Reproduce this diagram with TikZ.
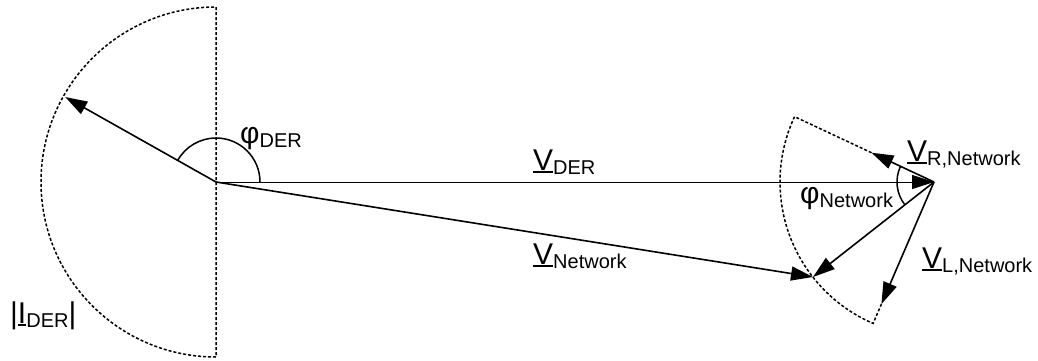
\documentclass[tikz,border=0pt]{standalone}
\usepackage{fontspec}
\setmainfont{Liberation Sans}
\usetikzlibrary{arrows.meta,calc}
% phasor symbol: underlined letter with a lowered subscript
\newcommand\ubar[1]{\setbox0\hbox{#1}\rlap{\rule[-3pt]{\wd0}{2.4pt}}\box0}
\newcommand\lsub[1]{\raisebox{-4pt}{\fontsize{20}{24}\selectfont #1}}
\newcommand\phasor[2]{\ubar{#1}\lsub{#2}}
\begin{document}
\begin{tikzpicture}[x=1pt,y=1pt,
  vec/.style={line width=1.6pt,-{Triangle[length=22pt,width=14pt]}},
  thinvec/.style={line width=1pt,-{Triangle[length=22pt,width=14pt]}},
  bound/.style={line width=1.5pt,dash pattern=on 3pt off 2pt},
  angarc/.style={line width=1.5pt},
  lbl/.style={anchor=base west,inner sep=0pt,font=\fontsize{30}{36}\selectfont}]
\useasboundingbox (0,0) rectangle (1038,360);

% key points
\coordinate (O) at (216,178);
\coordinate (P) at (934,178);
\coordinate (N) at (813,83);
\path (O) ++(150.6:173) coordinate (I);
\path (P) ++(154.9:69) coordinate (R);
\path (P) ++(246.7:133) coordinate (L);
\path (O) ++(0,175) coordinate (Otop);
\path (O) ++(0,-175) coordinate (Obot);
\path (P) ++(154.9:154) coordinate (Rend);
\path (P) ++(246.7:154) coordinate (Lend);

% current magnitude limit (left) and network voltage range (right)
\draw[bound] (Obot) arc[start angle=270,end angle=90,radius=175] -- (Obot);
\draw[bound] (R) -- (Rend) arc[start angle=154.9,end angle=246.7,radius=154] -- (L);

% angle markers
\draw[angarc] ($(O)+(44,0)$) arc[start angle=0,end angle=150.6,radius=44];
\draw[angarc] ($(P)+(154.9:37)$) arc[start angle=154.9,end angle=218.1,radius=37];

% phasors
\draw[vec] (O) -- (I);
\draw[thinvec] (O) -- (P);
\draw[vec] (O) -- (N);
\draw[vec] (P) -- (R);
\draw[vec] (P) -- (N);
\draw[vec] (P) -- (L);

% labels
\node[lbl] (phider) at (240,217) {φ\lsub{DER}};
\node[lbl] (vder) at (533,190) {\phasor{V}{DER}};
\node[lbl] (vnet) at (533,96) {\phasor{V}{Network}};
\node[lbl] (vr) at (907,199) {\phasor{V}{R,Network}};
\node[lbl] (phinet) at (800,157) {φ\lsub{Network}};
\node[lbl] (vl) at (922,92) {\phasor{V}{L,Network}};
\node[lbl] (ider) at (10,37) {|\phasor{I}{DER}|};
\end{tikzpicture}
\end{document}
